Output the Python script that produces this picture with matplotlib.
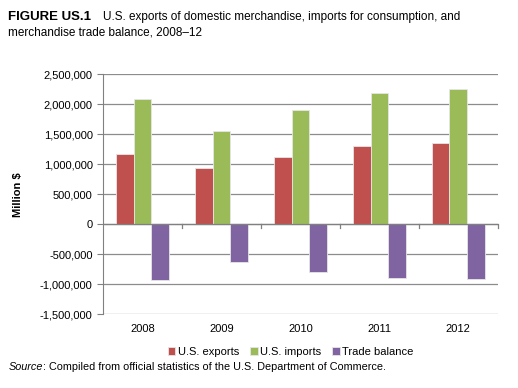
import matplotlib.pyplot as plt
import numpy as np
from matplotlib.ticker import FuncFormatter

plt.rcParams['font.family'] = ['Liberation Sans', 'DejaVu Sans']

years = ['2008', '2009', '2010', '2011', '2012']
exports = [1167000, 933000, 1122000, 1300000, 1356000]
imports = [2089000, 1550000, 1900000, 2189000, 2256000]
balance = [-933000, -622000, -789000, -900000, -906000]
series = ['U.S. exports', 'U.S. imports', 'Trade balance']
colors = ['#c0504d', '#9bbb59', '#8064a2']

fig = plt.figure(figsize=(5.18, 3.88), dpi=100)
ax = fig.add_axes([0.199, 0.19, 0.762, 0.618])

x = np.arange(len(years))
w = 0.225
for i, (vals, c, name) in enumerate(zip([exports, imports, balance], colors, series)):
    ax.bar(x + (i - 1) * w, vals, w, color=c, edgecolor='#e6e6e6', linewidth=0.6,
           label=name, zorder=3)

ax.set_ylim(-1500000, 2500000)
ax.set_yticks(np.arange(-1500000, 2500001, 500000))
ax.yaxis.set_major_formatter(FuncFormatter(lambda v, p: f'{int(v):,}'))
ax.set_xlim(-0.5, 4.5)
ax.set_xticks(x)
ax.set_xticklabels(years)
ax.tick_params(axis='x', length=0, labelsize=8, pad=7)
ax.tick_params(axis='y', length=4, color='#808080', labelsize=8, direction='out')
ax.grid(axis='y', color='#8c8c8c', linewidth=0.9, zorder=0)
for s in ['top', 'right', 'bottom']:
    ax.spines[s].set_visible(False)
ax.spines['left'].set_color('#808080')
ax.axhline(0, color='#808080', linewidth=0.9, zorder=4)
for b in np.arange(0.5, 4.6, 1.0):
    ax.plot([b, b], [0, -60000], color='#808080', linewidth=0.9, zorder=4, clip_on=False)

ax.set_ylabel('Million $', fontsize=8, fontweight='bold', labelpad=12)

ax.legend(loc='upper center', bbox_to_anchor=(0.475, -0.095), ncol=3, frameon=False,
          fontsize=8, handlelength=0.7, handleheight=0.7, handletextpad=0.2,
          columnspacing=1.0)

fig.text(0.016, 0.955, 'FIGURE US.1', fontsize=9.5, fontweight='bold', va='center')
fig.text(0.199, 0.955, 'U.S. exports of domestic merchandise, imports for consumption, and',
         fontsize=8.5, va='center')
fig.text(0.016, 0.917, 'merchandise trade balance, 2008–12', fontsize=8.5, va='center')
src = fig.text(0.016, 0.053, 'Source', fontsize=7.8, style='italic', va='center')
fig.canvas.draw()
bb = src.get_window_extent().transformed(fig.transFigure.inverted())
fig.text(bb.x1, 0.053, ': Compiled from official statistics of the U.S. Department of Commerce.',
         fontsize=7.8, va='center')

fig.savefig('out.png', dpi=100)
